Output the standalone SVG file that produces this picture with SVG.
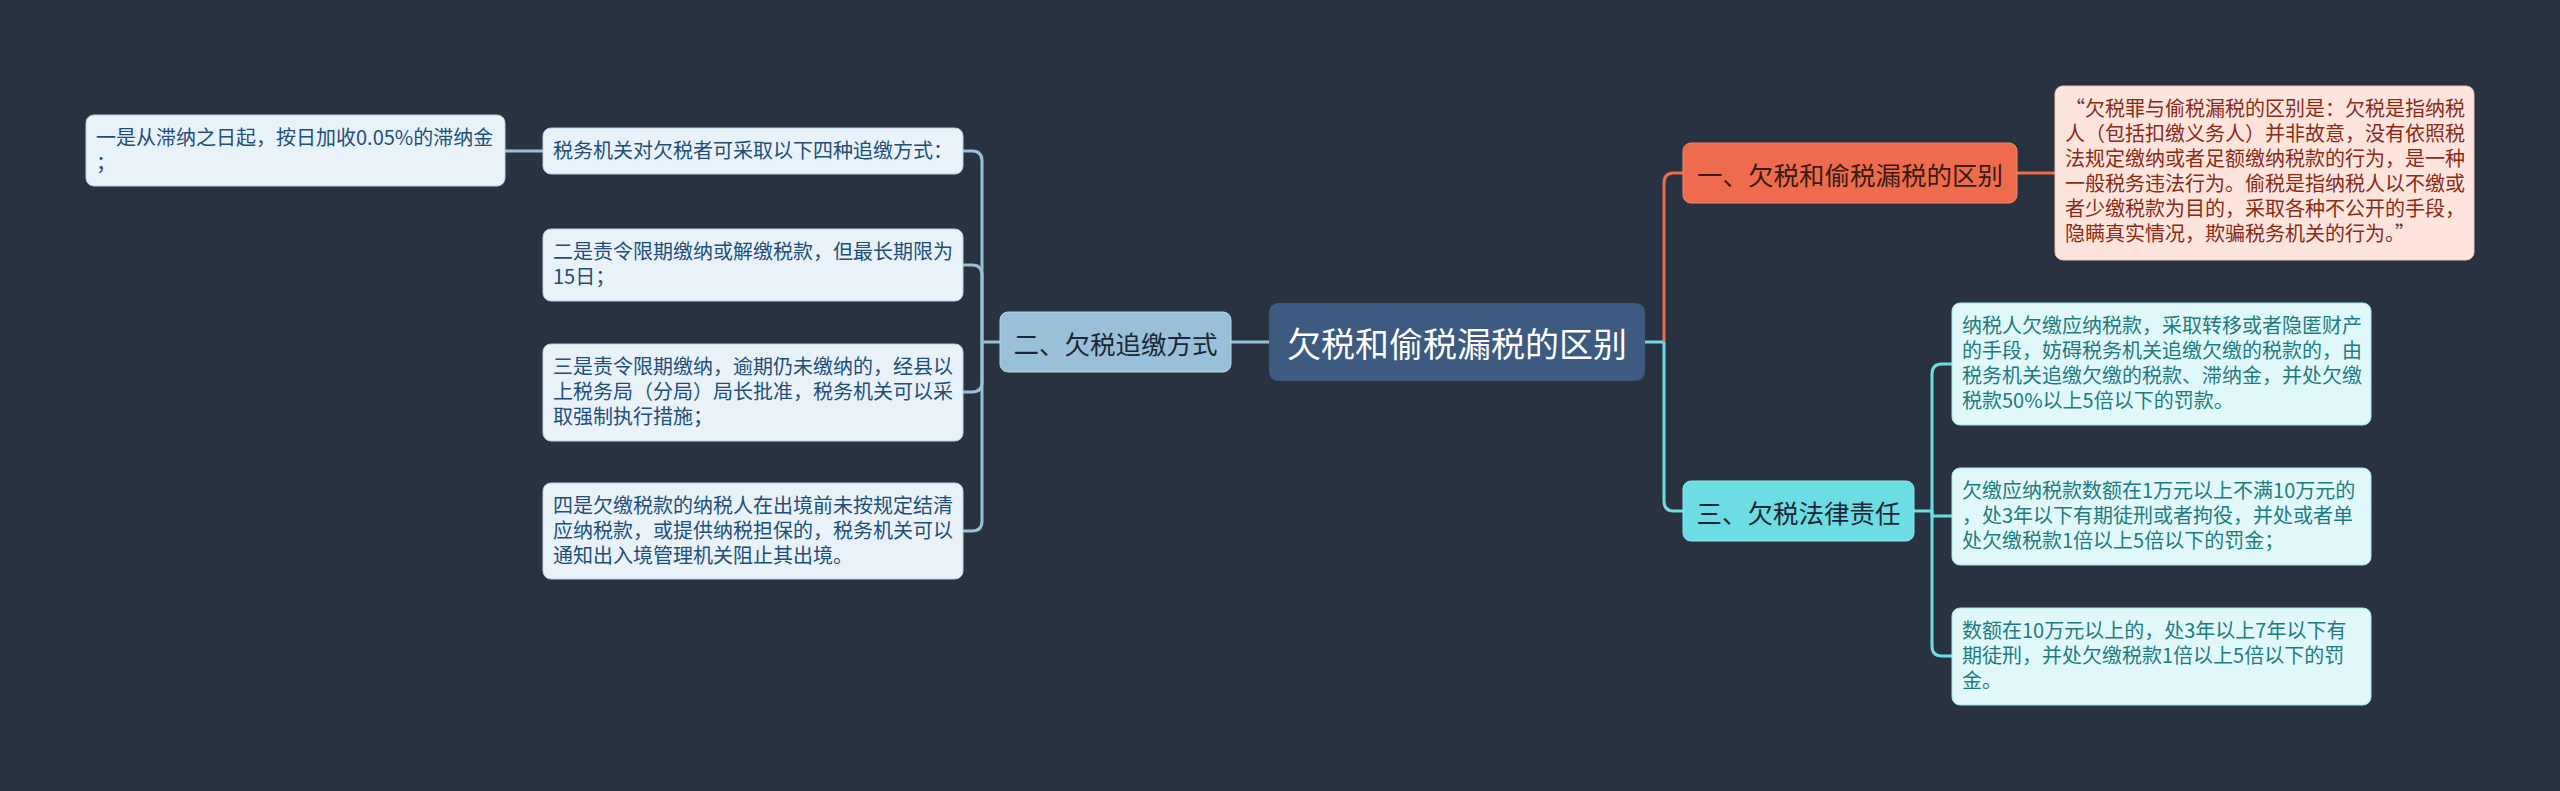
<svg xmlns="http://www.w3.org/2000/svg" width="2560" height="791" viewBox="0 0 2560 791">
<style>
text{font-family:"Noto Sans CJK SC","Noto Sans",sans-serif}
.lf{fill:#e9f2f8;stroke:#b8d3e5;stroke-width:1}
.lt{font-size:20px;fill:#1d4f78}
.cf{fill:#e0f8f9;stroke:#a8e8ec;stroke-width:1}
.ct{font-size:20px;fill:#1f7b80}
.pf{fill:#fde4dd;stroke:#f5c0b2;stroke-width:1}
.pt{font-size:20px;fill:#8a2b15}
.bt{font-size:25.5px;fill:#1c2634;text-anchor:middle;dominant-baseline:central}
.cb{stroke:#98c1d9;stroke-width:3;fill:none}
.cr{stroke:#ee6c4d;stroke-width:3;fill:none}
.cc{stroke:#6ddde4;stroke-width:3;fill:none}
</style>
<rect width="2560" height="791" fill="#293241"/>
<g id="connectors">
<path class="cb" d="M1269,342 H1231"/>
<path class="cb" d="M1000,342 H982"/>
<path class="cb" d="M982,342 V161 Q982,151 972,151 H963"/>
<path class="cb" d="M982,342 V275 Q982,265 972,265 H963"/>
<path class="cb" d="M982,342 V382 Q982,392 972,392 H963"/>
<path class="cb" d="M982,342 V521 Q982,531 972,531 H963"/>
<path class="cb" d="M543,151 H505"/>
<path class="cc" d="M1645,342 H1664"/>
<path class="cr" d="M1664,342 V183 Q1664,173 1674,173 H1683"/>
<path class="cc" d="M1664,342 V501 Q1664,511 1674,511 H1683"/>
<path class="cr" d="M2017,173 H2055"/>
<path class="cc" d="M1914,511 H1932"/>
<path class="cc" d="M1932,511 V374 Q1932,364 1942,364 H1952"/>
<path class="cc" d="M1932,511 V516 H1952"/>
<path class="cc" d="M1932,511 V646 Q1932,656 1942,656 H1952"/>
</g>
<g id="root">
<rect x="1269" y="303" width="376" height="78" rx="9" fill="#3d5a80"/>
<text x="1457" y="342" font-size="34" fill="#ffffff" text-anchor="middle" dominant-baseline="central">欠税和偷税漏税的区别</text>
</g>
<g id="branch2">
<rect x="1000" y="312" width="231" height="60" rx="8" fill="#98c1d9" stroke="#b5d5e8" stroke-width="1"/>
<text class="bt" x="1115.5" y="342">二、欠税追缴方式</text>
</g>
<g id="branch1">
<rect x="1683" y="143" width="334" height="60" rx="8" fill="#ee6c4d" stroke="#f08a70" stroke-width="1"/>
<text class="bt" x="1850" y="173" style="fill:#3a1a12">一、欠税和偷税漏税的区别</text>
</g>
<g id="branch3">
<rect x="1683" y="481" width="231" height="60" rx="8" fill="#6ddde4" stroke="#8fe6ec" stroke-width="1"/>
<text class="bt" x="1798.5" y="511">三、欠税法律责任</text>
</g>
<g id="leaf-way">
<rect class="lf" x="543" y="128" width="420" height="46" rx="8"/>
<text class="lt" x="553" y="158">税务机关对欠税者可采取以下四种追缴方式：</text>
</g>
<g id="leaf-one">
<rect class="lf" x="86" y="115" width="419" height="71" rx="8"/>
<text class="lt"><tspan x="96" y="145">一是从滞纳之日起，按日加收0.05%的滞纳金</tspan><tspan x="96" y="170">；</tspan></text>
</g>
<g id="leaf-two">
<rect class="lf" x="543" y="229" width="420" height="72" rx="8"/>
<text class="lt"><tspan x="553" y="259">二是责令限期缴纳或解缴税款，但最长期限为</tspan><tspan x="553" y="284">15日；</tspan></text>
</g>
<g id="leaf-three">
<rect class="lf" x="543" y="344" width="420" height="97" rx="8"/>
<text class="lt"><tspan x="553" y="374">三是责令限期缴纳，逾期仍未缴纳的，经县以</tspan><tspan x="553" y="399">上税务局（分局）局长批准，税务机关可以采</tspan><tspan x="553" y="424">取强制执行措施；</tspan></text>
</g>
<g id="leaf-four">
<rect class="lf" x="543" y="483" width="420" height="96" rx="8"/>
<text class="lt"><tspan x="553" y="513">四是欠缴税款的纳税人在出境前未按规定结清</tspan><tspan x="553" y="538">应纳税款，或提供纳税担保的，税务机关可以</tspan><tspan x="553" y="563">通知出入境管理机关阻止其出境。</tspan></text>
</g>
<g id="leaf-diff">
<rect class="pf" x="2055" y="86" width="419" height="174" rx="8"/>
<text class="pt"><tspan x="2065" y="116">“欠税罪与偷税漏税的区别是：欠税是指纳税</tspan><tspan x="2065" y="141">人（包括扣缴义务人）并非故意，没有依照税</tspan><tspan x="2065" y="166">法规定缴纳或者足额缴纳税款的行为，是一种</tspan><tspan x="2065" y="191">一般税务违法行为。偷税是指纳税人以不缴或</tspan><tspan x="2065" y="216">者少缴税款为目的，采取各种不公开的手段，</tspan><tspan x="2065" y="241">隐瞒真实情况，欺骗税务机关的行为。”</tspan></text>
</g>
<g id="leaf-law1">
<rect class="cf" x="1952" y="303" width="419" height="122" rx="8"/>
<text class="ct"><tspan x="1962" y="333">纳税人欠缴应纳税款，采取转移或者隐匿财产</tspan><tspan x="1962" y="358">的手段，妨碍税务机关追缴欠缴的税款的，由</tspan><tspan x="1962" y="383">税务机关追缴欠缴的税款、滞纳金，并处欠缴</tspan><tspan x="1962" y="408">税款50%以上5倍以下的罚款。</tspan></text>
</g>
<g id="leaf-law2">
<rect class="cf" x="1952" y="468" width="419" height="97" rx="8"/>
<text class="ct"><tspan x="1962" y="498">欠缴应纳税款数额在1万元以上不满10万元的</tspan><tspan x="1962" y="523">，处3年以下有期徒刑或者拘役，并处或者单</tspan><tspan x="1962" y="548">处欠缴税款1倍以上5倍以下的罚金；</tspan></text>
</g>
<g id="leaf-law3">
<rect class="cf" x="1952" y="608" width="419" height="97" rx="8"/>
<text class="ct"><tspan x="1962" y="638">数额在10万元以上的，处3年以上7年以下有</tspan><tspan x="1962" y="663">期徒刑，并处欠缴税款1倍以上5倍以下的罚</tspan><tspan x="1962" y="688">金。</tspan></text>
</g>
</svg>
